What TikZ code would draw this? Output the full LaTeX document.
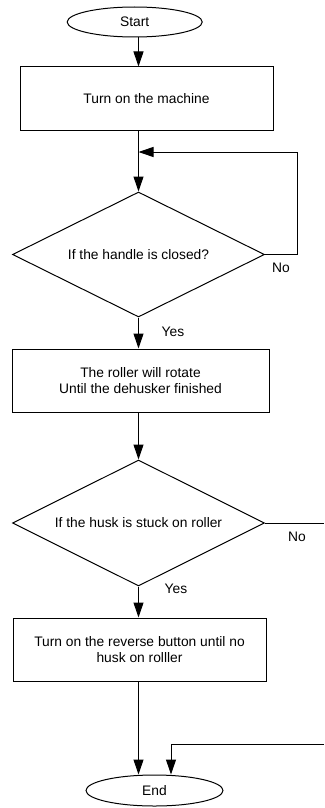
\documentclass[tikz,border=0pt]{standalone}
\usepackage{fontspec}
\setmainfont{Liberation Sans}
\usetikzlibrary{shapes.geometric,arrows.meta}
\begin{document}
\begin{tikzpicture}[x=1pt,y=-1pt,
  every node/.style={font=\fontsize{13.8}{16}\selectfont},
  boxstyle/.style={draw,line width=1pt,rectangle,inner sep=0pt,align=center},
  termstyle/.style={draw,line width=1pt,ellipse,inner sep=0pt},
  decstyle/.style={draw,line width=1pt,diamond,shape aspect=2,inner sep=0pt,align=center},
  arr/.style={line width=1pt,-{Triangle[length=15pt,width=10pt]}},
  ln/.style={line width=1pt},
  lbl/.style={inner sep=0pt}]
\useasboundingbox (0,0) rectangle (324,808);
\node[termstyle,minimum width=135pt,minimum height=30pt] (start) at (134.7,22) {Start};
\node[boxstyle,minimum width=253pt,minimum height=63pt] (box1) at (146.5,98.5) {Turn on the machine};
\node[decstyle,minimum width=252pt,minimum height=125pt] (d1) at (138.5,254.5) {If the handle is closed?};
\node[boxstyle,minimum width=257pt,minimum height=63pt] (box2) at (140.5,380.5) {The roller will rotate\\Until the dehusker finished};
\node[decstyle,minimum width=252pt,minimum height=126pt] (d2) at (138.5,523) {If the husk is stuck on roller};
\node[boxstyle,minimum width=253pt,minimum height=63pt] (box3) at (139.5,649.5) {Turn on the reverse button until no\\husk on rolller};
\node[termstyle,minimum width=137pt,minimum height=31pt] (end) at (154.5,790.5) {End};
\coordinate (m) at (138.5,0);
\coordinate (l1) at (297,152);
\coordinate (j1) at (138.5,152);
\coordinate (e2) at (324,523);
\coordinate (e3) at (324,744);
\coordinate (k) at (171,0);
\node[lbl] (no1) at (281,268) {No};
\node[lbl] (yes1) at (173,332) {Yes};
\node[lbl] (no2) at (297,537) {No};
\node[lbl] (yes2) at (176,589) {Yes};
\draw[arr] (start.south -| m) -- (box1.south |- box1.north -| m);
\draw[arr] (box1.south -| m) -- (d1.north);
\draw[arr] (d1.east) -| (l1) -- (j1);
\draw[arr] (d1.south) -- (box2.north -| m);
\draw[arr] (box2.south -| m) -- (d2.north);
\draw[ln] (d2.east) -- (e2);
\draw[arr] (d2.south) -- (box3.north -| m);
\draw[arr] (box3.south -| m) -- (end.north -| m);
\draw[arr] (e3) -| (end.north -| k);
\end{tikzpicture}
\end{document}
